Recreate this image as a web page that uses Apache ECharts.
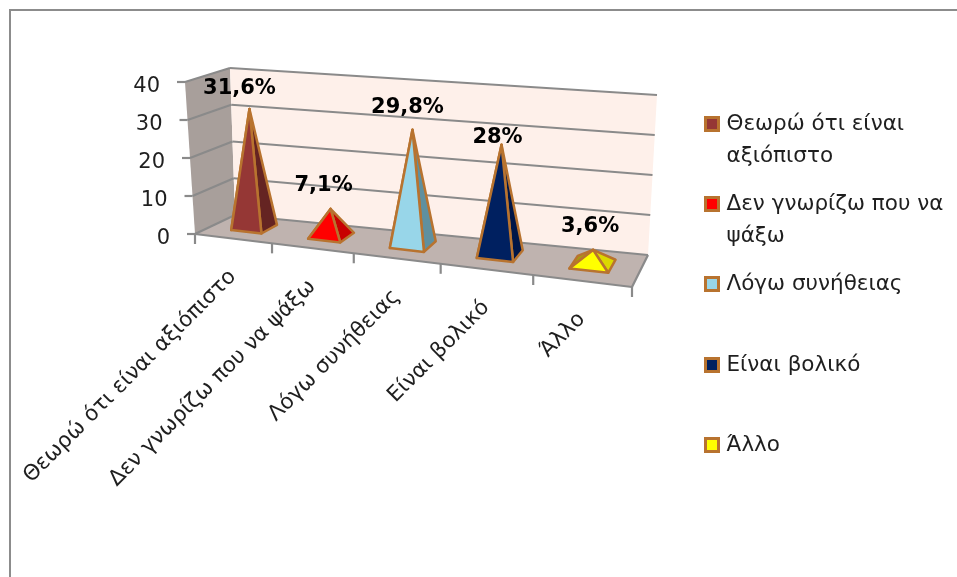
<!DOCTYPE html>
<html><head><meta charset="utf-8">
<style>html,body{margin:0;padding:0;background:#fff}#c{width:957px;height:577px}</style>
<script src="https://cdn.jsdelivr.net/npm/echarts@6/dist/echarts.min.js"></script>
</head><body><div id="c"></div>
<script>
const categories = ['Θεωρώ ότι είναι αξιόπιστο','Δεν γνωρίζω που να ψάξω','Λόγω συνήθειας','Είναι βολικό','Άλλο'];
const values = [31.6, 7.1, 29.8, 28, 3.6];
const valueTicks = [0, 10, 20, 30, 40];
const legendLines = ['Θεωρώ ότι είναι\nαξιόπιστο','Δεν γνωρίζω που να\nψάξω','Λόγω συνήθειας','Είναι βολικό','Άλλο'];
const frontColors = ['#953735','#ff0000','#98d6e9','#002060','#ffff00'];
const sideColors  = ['#652422','#c80000','#5f909f','#001648','#dcd800'];
const leftColors  = ['#7a2c2a','#a80000','#7db0c0','#001a50','#a89a12'];
const labelNudges = [[-10,-20],[-7,-23],[-5,-22],[-4,-7],[-3,-23]];

const GRID = {left:195, top:82, width:437, height:152};
const FLOOR = {fl:[195,234], fr:[632,287], bl:[235,215], br:[648,255]};
const LIFT  = {fl:[-10,-152], fr:[5,-160], bl:[-5,-147], br:[9,-160]};
const EDGE = '#b8732f', GRIDLINE = '#8a8a8a', TEXT = '#1f1f1f';
const FONT = '21px "DejaVu Sans"', LABELFONT = '21.5px "DejaVu Sans"', BOLD = 'bold 21px "DejaVu Sans"';

function warp(u){ return 0.856*u/(1-0.144*u); }
function bil(q,t,d){
  return [0,1].map(k => (1-d)*((1-t)*q.fl[k]+t*q.fr[k]) + d*((1-t)*q.bl[k]+t*q.br[k]));
}
function project(u,d,h){
  const t = warp(u), b = bil(FLOOR,t,d), l = bil(LIFT,t,d);
  return [b[0]+h*l[0], b[1]+h*l[1]];
}
function toU(x){ return (x-GRID.left)/GRID.width; }
function toH(y){ return (GRID.top+GRID.height-y)/GRID.height; }

function renderWalls(params, api){
  const band = api.size([1,0])[0];
  const u0 = toU(api.coord([0,0])[0]-band/2);
  const u1 = toU(api.coord([categories.length-1,0])[0]+band/2);
  const top = toH(api.coord([0,valueTicks[valueTicks.length-1]])[1]);
  const kids = [];
  const poly = (pts,fill) => kids.push({type:'polygon',shape:{points:pts},style:{fill}});
  const line = (a,b,w,c) => kids.push({type:'line',shape:{x1:a[0],y1:a[1],x2:b[0],y2:b[1]},style:{stroke:c||GRIDLINE,lineWidth:w||2.2}});
  poly([project(u0,0,0),project(u0,1,0),project(u0,1,top),project(u0,0,top)],'#a89f9b');
  poly([project(u0,1,0),project(u1,1,0),project(u1,1,top),project(u0,1,top)],'#fef0ea');
  poly([project(u0,0,0),project(u1,0,0),project(u1,1,0),project(u0,1,0)],'#bfb3af');
  valueTicks.forEach(v => {
    const h = toH(api.coord([0,v])[1]);
    const a = project(u0,0,h), b = project(u0,1,h), c = project(u1,1,h);
    line([a[0]-8,a[1]],a); line(a,b); line(b,c);
    kids.push({type:'text',x:a[0]-25,y:a[1]+5,style:{text:String(v),font:FONT,fill:TEXT,align:'right',verticalAlign:'middle'}});
  });
  line(project(u0,0,0),project(u1,0,0));
  line(project(u1,0,0),project(u1,1,0));
  for(let i=0;i<=categories.length;i++){
    const p = project(u0+(u1-u0)*i/categories.length,0,0);
    line(p,[p[0],p[1]+10]);
  }
  categories.forEach((name,i) => {
    const c = api.coord([i,0]);
    const p = project(toU(c[0]),0,0);
    kids.push({type:'text',x:p[0],y:p[1]+35,rotation:Math.PI/4,
      style:{text:name,font:LABELFONT,fill:TEXT,align:'right',verticalAlign:'middle'}});
  });
  return {type:'group',children:kids};
}

function renderPyramid(idx){
  return function(params, api){
    const cat = api.value(0), val = api.value(1);
    const c = api.coord([cat,val]), band = api.size([1,0])[0];
    const cu = toU(c[0]+0.005*band), hu = 0.2*band/GRID.width, cd = 0.55, hd = 0.21, h = toH(c[1]);
    const fl = project(cu-hu,cd-hd,0), fr = project(cu+hu,cd-hd,0),
          bl = project(cu-hu,cd+hd,0), br = project(cu+hu,cd+hd,0),
          apex = project(cu,cd,h);
    const face = (pts,fill) => ({type:'polygon',shape:{points:pts},
      style:{fill,stroke:EDGE,lineWidth:2.5,lineJoin:'round'}});
    const n = labelNudges[idx];
    return {type:'group',children:[
      face([fl,bl,apex],leftColors[idx]),
      face([fr,br,apex],sideColors[idx]),
      face([fl,fr,apex],frontColors[idx]),
      {type:'text',x:apex[0]+n[0],y:apex[1]+n[1],z2:10,style:{
        text:String(val).replace('.',',')+'%',font:BOLD,fill:'#000',align:'center',verticalAlign:'middle'}}
    ]};
  };
}

const legendCenters = [122,202,282,363,443];
const chart = echarts.init(document.getElementById('c'),null,{renderer:'canvas'});
chart.setOption({
  animation:false,
  backgroundColor:'#fff',
  grid:{left:GRID.left,top:GRID.top,width:GRID.width,height:GRID.height,containLabel:false},
  xAxis:{type:'category',data:categories,show:false},
  yAxis:{type:'value',min:0,max:40,interval:10,show:false},
  graphic:[{type:'rect',silent:true,shape:{x:10,y:10,width:1100,height:800},style:{fill:'none',stroke:'#8c8c8c',lineWidth:2}}],
  legend:categories.map((name,i) => {
    const two = legendLines[i].includes('\n');
    return {
      data:[name],orient:'vertical',left:699,top:legendCenters[i]-(two?51:19),
      itemWidth:13,itemHeight:13,icon:'rect',selectedMode:false,
      itemStyle:{borderColor:EDGE,borderWidth:3},
      formatter:() => (two?' \n':'')+legendLines[i],
      textStyle:{fontFamily:'DejaVu Sans',fontSize:21.5,color:TEXT,lineHeight:32,padding:[0,0,0,3]}
    };
  }),
  series:[
    {type:'custom',name:'walls',silent:true,z:1,clip:false,data:[[0,0]],renderItem:renderWalls},
    ...categories.map((name,i) => ({
      type:'custom',name,z:2+i,silent:true,clip:false,
      itemStyle:{color:frontColors[i]},
      encode:{x:0,y:1},
      data:[[i,values[i]]],
      renderItem:renderPyramid(i)
    }))
  ]
});
</script></body></html>
